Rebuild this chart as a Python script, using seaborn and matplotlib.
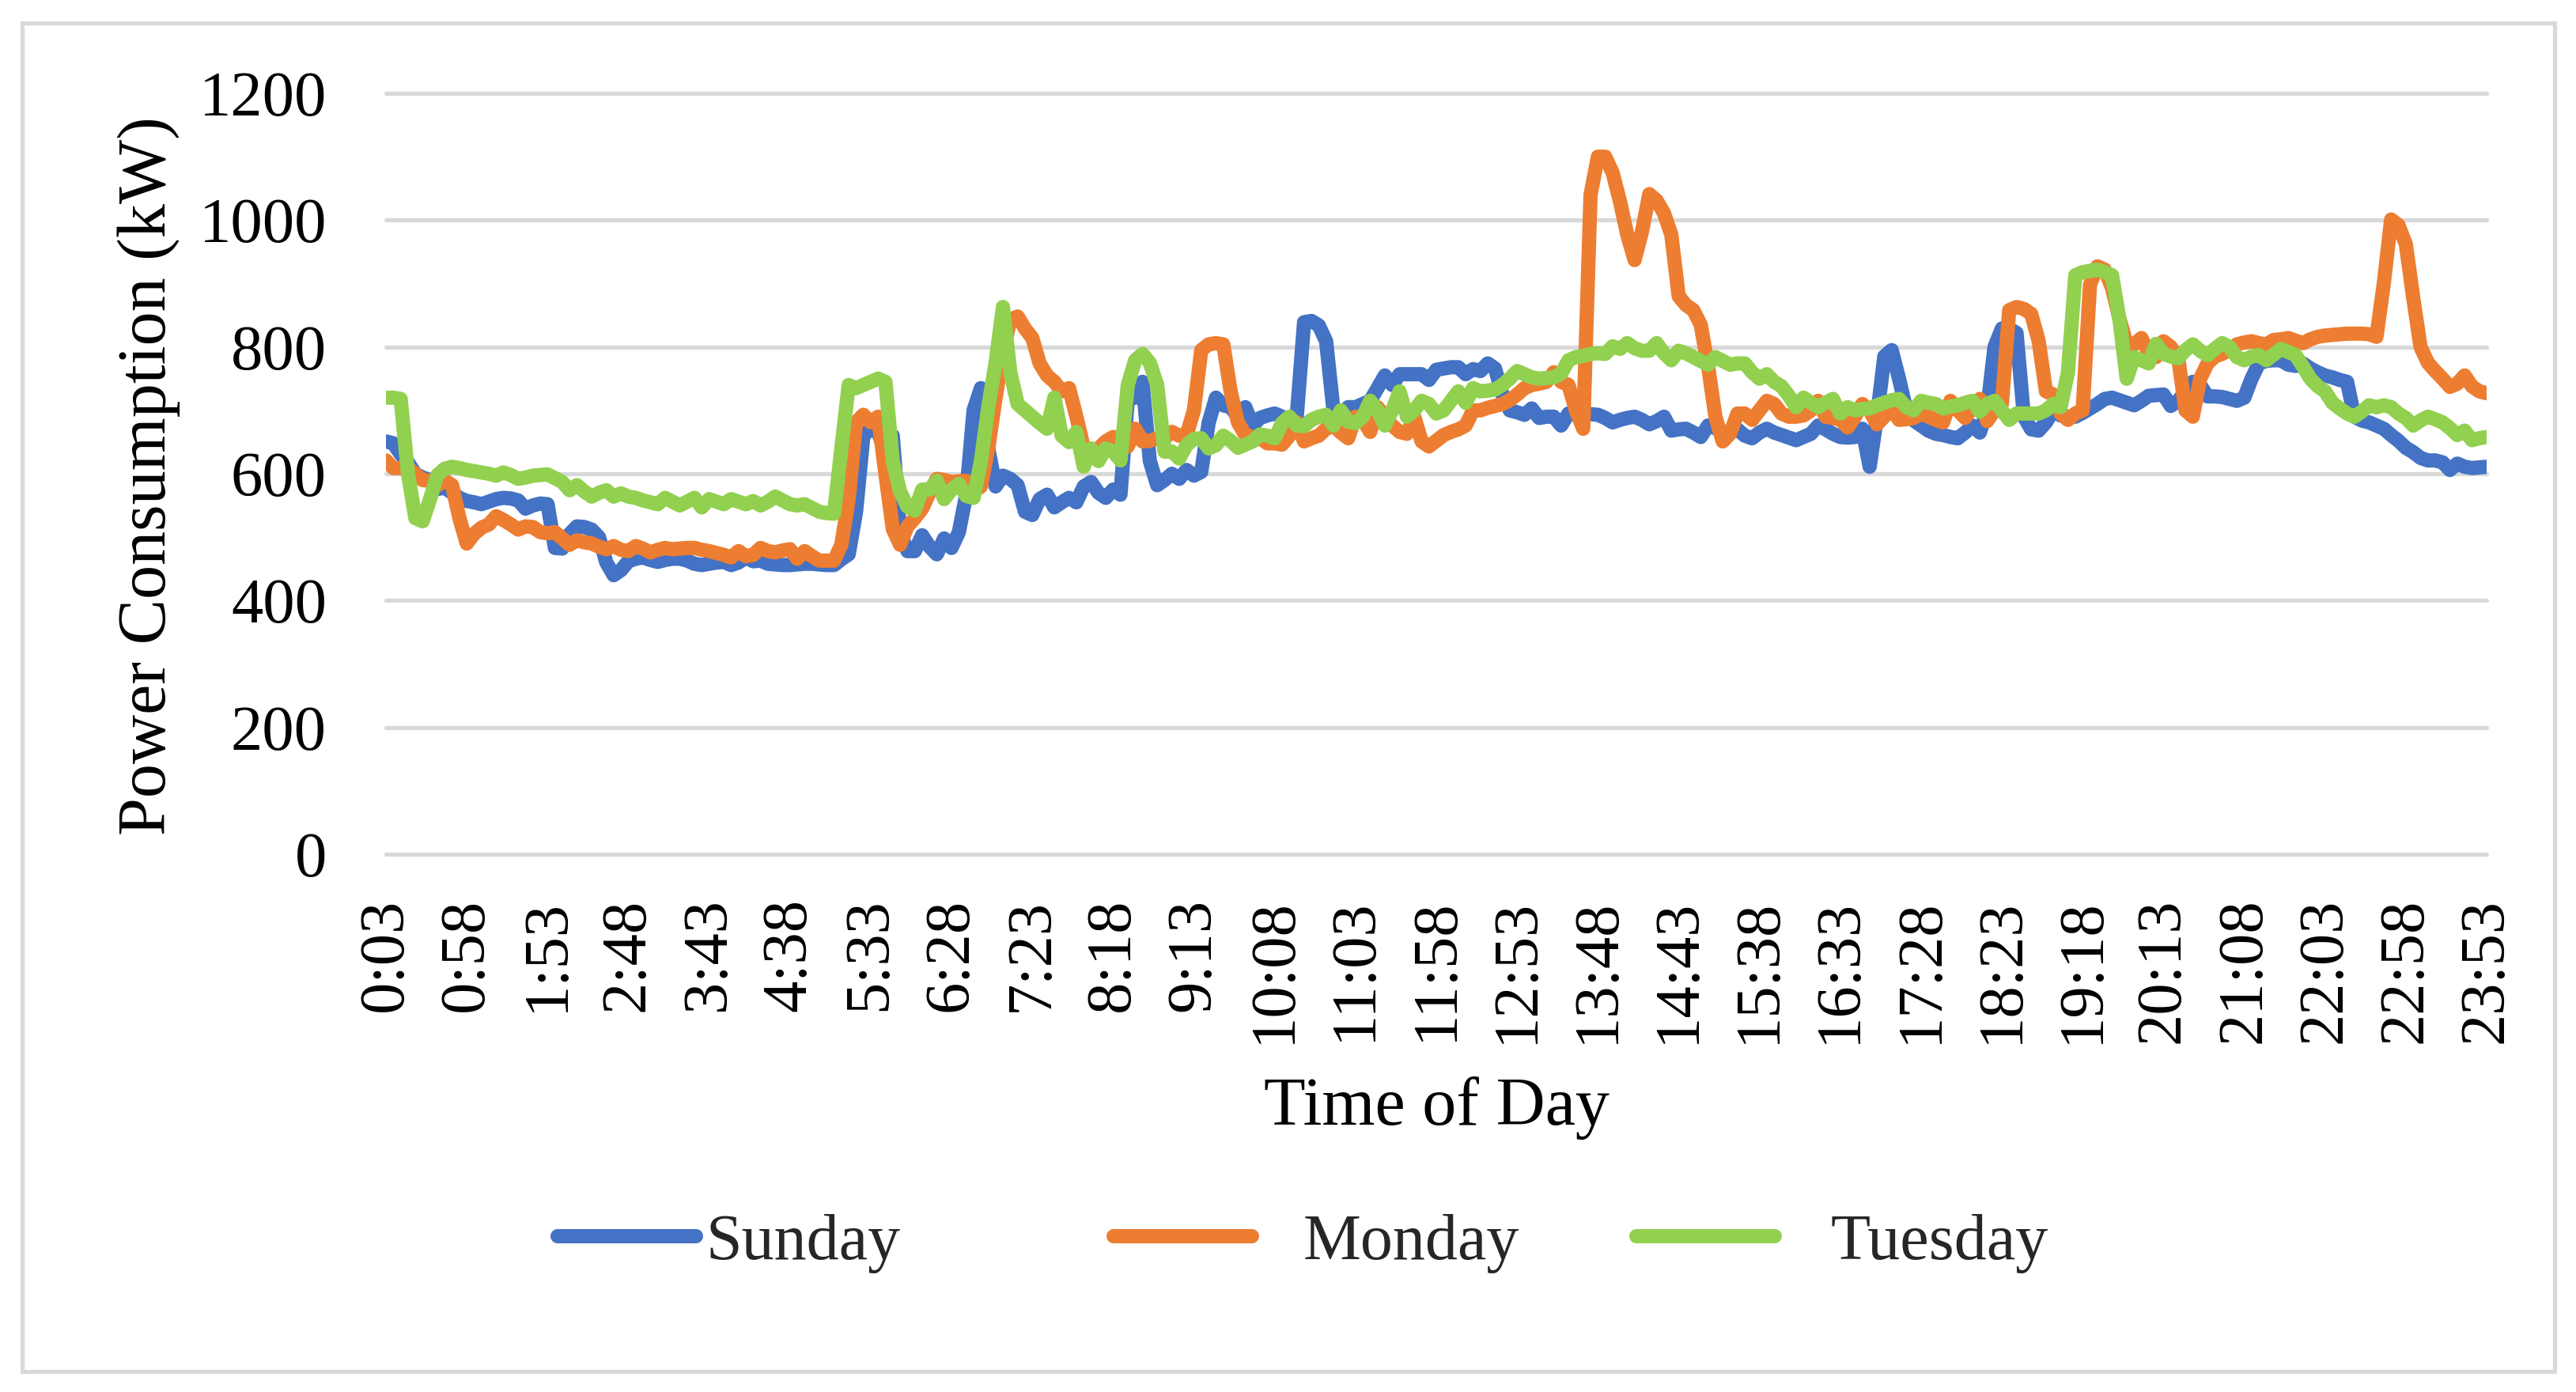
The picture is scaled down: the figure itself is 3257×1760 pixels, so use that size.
import matplotlib
matplotlib.use('Agg')
import matplotlib.pyplot as plt
import seaborn as sns
import pandas as pd
from matplotlib.lines import Line2D
from matplotlib.patches import Rectangle

# 5-minute readings, 0:03 .. 23:53 (kW)
sunday = [
    651, 648, 631, 618, 600, 594, 590, 576, 578, 570,
    562, 557, 555, 552, 556, 560, 562, 561, 558, 545,
    550, 553, 552, 483, 482, 505, 517, 516, 512, 500,
    460, 440, 448, 462, 466, 468, 464, 461, 464, 466,
    466, 463, 458, 456, 458, 460, 461, 456, 460, 468,
    462, 463, 458, 457, 456, 456, 457, 458, 458, 457,
    456, 456, 465, 473, 540, 660, 671, 665, 635, 660,
    508, 478, 478, 503, 485, 473, 498, 483, 508, 567,
    700, 735, 640, 580, 597, 592, 582, 540, 535, 560,
    567, 547, 555, 562, 555, 580, 587, 570, 562, 575,
    567, 718, 720, 745, 620, 582, 590, 600, 592, 606,
    597, 603, 680, 720, 708, 705, 690, 705, 676, 688,
    692, 695, 690, 685, 690, 839, 841, 834, 809, 700,
    693, 705, 705, 710, 715, 735, 755, 740, 757, 757,
    757, 757, 748, 764, 766, 768, 768, 757, 765, 762,
    774, 766, 725, 700, 697, 693, 703, 688, 690, 690,
    676, 695, 695, 695, 694, 693, 688, 681, 685, 688,
    690, 685, 678, 683, 690, 668, 670, 671, 665, 658,
    676, 672, 666, 666, 670, 660, 656, 665, 671, 665,
    661, 657, 653, 658, 663, 676, 670, 663, 658, 657,
    658, 671, 611, 690, 785, 795, 750, 700, 684, 676,
    668, 663, 661, 658, 656, 665, 676, 665, 700, 800,
    829, 829, 822, 690, 670, 668, 681, 700, 692, 690,
    690, 696, 703, 710, 718, 720, 716, 712, 708, 715,
    723, 724, 725, 707, 715, 730, 745, 740, 722, 722,
    721, 718, 715, 720, 750, 774, 778, 779, 779, 772,
    770, 774, 766, 760, 755, 752, 748, 745, 690, 684,
    681, 676, 671, 661, 652, 641, 634, 625, 621, 621,
    618, 606, 616, 611, 609, 610, 611]

monday = [
    621, 609, 609, 609, 600, 590, 589, 582, 589, 582,
    530, 490, 505, 515, 520, 533, 527, 520, 512, 517,
    516, 508, 506, 508, 498, 488, 495, 492, 490, 485,
    481, 486, 480, 478, 486, 482, 476, 480, 483, 481,
    482, 483, 483, 480, 478, 475, 472, 468, 478, 470,
    472, 483, 478, 476, 479, 481, 466, 478, 470, 463,
    463, 463, 488, 560, 681, 693, 681, 690, 600, 513,
    488, 517, 530, 545, 570, 592, 590, 587, 588, 589,
    572, 580, 640, 720, 790, 843, 848, 829, 814, 774,
    755, 745, 730, 735, 690, 641, 631, 640, 651, 658,
    655, 643, 671, 651, 652, 656, 656, 666, 660, 661,
    700, 795, 804, 806, 804, 730, 681, 661, 658, 656,
    648, 648, 646, 660, 681, 651, 656, 660, 671, 676,
    665, 656, 690, 685, 666, 705, 690, 676, 666, 663,
    690, 651, 643, 652, 661, 666, 670, 676, 700, 700,
    704, 707, 710, 716, 725, 735, 740, 742, 745, 760,
    745, 740, 700, 671, 1040, 1100, 1100, 1075, 1030, 977,
    937, 982, 1041, 1031, 1011, 977, 880, 866, 858, 835,
    770, 690, 651, 663, 695, 695, 685, 700, 715, 710,
    695, 690, 690, 692, 700, 715, 690, 688, 685, 673,
    690, 710, 700, 678, 690, 703, 685, 686, 688, 695,
    690, 685, 681, 715, 700, 688, 705, 718, 683, 700,
    710, 858, 863, 860, 852, 810, 730, 725, 695, 685,
    695, 700, 898, 927, 922, 893, 845, 804, 804, 814,
    790, 784, 809, 800, 784, 700, 690, 750, 774, 785,
    789, 796, 804, 807, 809, 806, 804, 811, 812, 814,
    810, 806, 812, 816, 818, 819, 820, 821, 821, 821,
    820, 816, 900, 1001, 992, 962, 878, 800, 775, 762,
    750, 737, 742, 755, 738, 730, 727]

tuesday = [
    720, 720, 718, 600, 530, 525, 560, 598, 608, 611,
    609, 606, 604, 602, 600, 597, 602, 598, 592, 594,
    597, 598, 599, 593, 587, 574, 582, 572, 564, 570,
    574, 564, 569, 564, 562, 558, 555, 552, 562, 556,
    550, 556, 562, 547, 560, 556, 552, 560, 556, 552,
    557, 550, 556, 564, 558, 552, 550, 552, 546, 540,
    538, 537, 640, 740, 735, 740, 745, 750, 745, 620,
    572, 548, 542, 575, 575, 589, 560, 575, 584, 565,
    562, 620, 705, 775, 863, 760, 710, 700, 690, 680,
    671, 720, 660, 650, 666, 611, 640, 620, 640, 635,
    621, 740, 779, 789, 775, 740, 635, 635, 624, 645,
    655, 656, 640, 645, 660, 652, 641, 646, 651, 662,
    660, 656, 680, 690, 676, 675, 685, 690, 693, 676,
    700, 682, 680, 690, 715, 700, 676, 700, 730, 690,
    700, 715, 710, 695, 700, 715, 730, 712, 735, 730,
    731, 733, 740, 750, 762, 757, 752, 750, 751, 752,
    758, 779, 784, 786, 789, 790, 789, 801, 797, 806,
    798, 794, 794, 806, 790, 779, 794, 790, 784, 778,
    772, 784, 778, 772, 774, 774, 760, 750, 757, 745,
    738, 723, 705, 720, 712, 705, 712, 718, 695, 705,
    700, 702, 703, 708, 712, 716, 718, 705, 700, 715,
    712, 710, 703, 706, 708, 712, 715, 698, 710, 715,
    700, 685, 695, 695, 695, 695, 700, 710, 705, 760,
    913, 918, 920, 922, 918, 913, 844, 750, 784, 779,
    774, 805, 789, 785, 782, 795, 804, 794, 787, 797,
    806, 800, 784, 779, 785, 787, 779, 788, 797, 792,
    787, 769, 750, 738, 730, 712, 703, 695, 690, 698,
    708, 705, 708, 705, 695, 688, 676, 684, 690, 686,
    681, 672, 661, 668, 653, 656, 658]

days = ['Sunday', 'Monday', 'Tuesday']
colors = ['#4472C4', '#ED7D31', '#92D050']
tick_labels = ['0:03', '0:58', '1:53', '2:48', '3:43', '4:38', '5:33', '6:28',
               '7:23', '8:18', '9:13', '10:08', '11:03', '11:58', '12:53',
               '13:48', '14:43', '15:38', '16:33', '17:28', '18:23', '19:18',
               '20:13', '21:08', '22:03', '22:58', '23:53']

frames = []
for name, vals in zip(days, [sunday, monday, tuesday]):
    frames.append(pd.DataFrame({'slot': range(len(vals)), 'kW': vals, 'day': name}))
df = pd.concat(frames, ignore_index=True)

sns.set_theme(style='white')
plt.rcParams['font.family'] = ['Liberation Serif', 'DejaVu Serif']

W, H = 3257, 1760
LW = 13
fig = plt.figure(figsize=(W / 100, H / 100), dpi=100)
ax = fig.add_axes([488 / W, 1 - 1080 / H, 2656 / W, 962 / H])

sns.lineplot(data=df, x='slot', y='kW', hue='day', hue_order=days,
             palette=dict(zip(days, colors)), linewidth=LW,
             estimator=None, sort=False, legend=False, ax=ax)
for line in ax.lines:
    line.set_solid_capstyle('round')
    line.set_solid_joinstyle('round')

ax.set_ylim(0, 1200)
ax.set_yticks(range(0, 1201, 200))
ax.set_xlim(0, len(sunday) - 1)
ax.set_xticks(range(0, len(sunday), 11))
ax.set_xticklabels(tick_labels, rotation=90)
ax.yaxis.grid(True, color='#D9D9D9', linewidth=3.8)
ax.xaxis.grid(False)
for gl in ax.get_ygridlines():
    gl.set_clip_on(False)
ax.set_axisbelow(True)
for s in ax.spines.values():
    s.set_visible(False)
ax.tick_params(axis='y', length=0, labelsize=58, pad=54, colors='black')
ax.tick_params(axis='x', length=0, labelsize=58, pad=40, colors='black')
ax.set_xlabel('')
ax.set_ylabel('')

fig.text(188 / W, 1 - 602 / H, 'Power Consumption (kW)', rotation=90,
         ha='center', va='center', fontsize=62, color='black')
fig.text(1817 / W, 1 - 1422 / H, 'Time of Day', ha='center', va='baseline',
         fontsize=62, color='black')

# legend, one entry each so the uneven spacing can be kept
leg_pos = [705, 1408, 2069]
leg_pad = [0.16, 0.8, 0.87]
for name, col, x0, pad in zip(days, colors, leg_pos, leg_pad):
    h = Line2D([], [], color=col, linewidth=LW, solid_capstyle='round')
    fig.legend([h], [name], loc='center left', bbox_to_anchor=(x0 / W, 1 - 1572 / H),
               frameon=False, fontsize=59, handlelength=2.13, handletextpad=pad,
               borderpad=0, borderaxespad=0)

fig.patches.append(Rectangle((28 / W, 1 - 1734 / H), (3230 - 28) / W, (1734 - 29) / H,
                             transform=fig.transFigure, fill=False,
                             edgecolor='#D9D9D9', linewidth=3.8))

fig.savefig('out.png', dpi=100)
